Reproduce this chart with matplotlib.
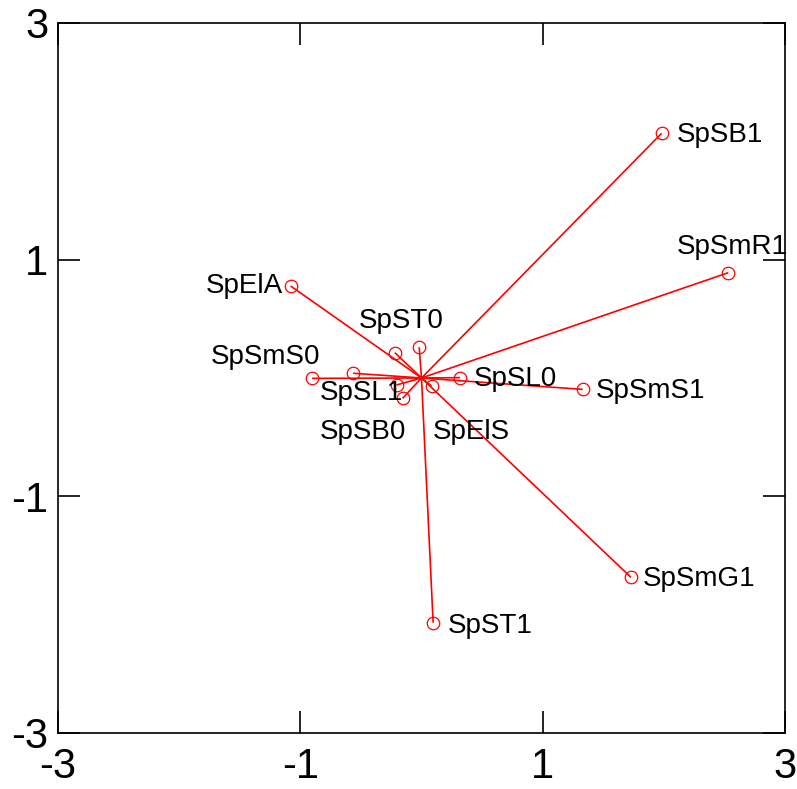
import matplotlib
matplotlib.use("Agg")
import matplotlib.pyplot as plt

plt.rcParams['font.family'] = ['Liberation Sans', 'DejaVu Sans']
plt.rcParams['axes.unicode_minus'] = False

# Species scores (biplot arrows from the origin)
species = ["SpSB1", "SpSmR1", "SpElA", "SpST0", "SpSmS0", "SpSL1",
           "SpSB0", "SpElS", "SpSL0", "SpSmS1", "SpSmG1", "SpST1",
           "", ""]
x_scores = [1.982, 2.532, -1.081, -0.019, -0.903, -0.564,
            -0.156, 0.083, 0.317, 1.330, 1.729, 0.096,
            -0.220, -0.206]
y_scores = [2.068, 0.890, 0.778, 0.260, -0.003, 0.040,
            -0.172, -0.068, 0.003, -0.096, -1.685, -2.068,
            0.214, -0.059]

ticks = [-3, -1, 1, 3]
tick_labels = ["-3", "-1", "1", "3"]

# Label placement: (dx px, dy px downward, horizontal alignment)
label_place = {
    "SpSB1": (15, 2, "left"),
    "SpSmR1": (-52, -26, "left"),
    "SpElA": (-8, 0, "right"),
    "SpST0": (-18, -26, "center"),
    "SpSmS0": (8, -21, "right"),
    "SpSL1": (-33, 20, "left"),
    "SpSB0": (-83, 34, "left"),
    "SpElS": (1, 46, "left"),
    "SpSL0": (14, 1, "left"),
    "SpSmS1": (13, 2, "left"),
    "SpSmG1": (12, 2, "left"),
    "SpST1": (15, 3, "left"),
}

fig = plt.figure(figsize=(7.97, 7.89), dpi=100)
ax = fig.add_axes([58 / 797, 1 - 733 / 789, (785 - 58) / 797, (733 - 23) / 789])

red = "#ff0000"
for name, xv, yv in zip(species, x_scores, y_scores):
    ax.plot([0, xv], [0, yv], color=red, lw=1.2, solid_capstyle="butt", zorder=2)
    ax.plot(xv, yv, marker="o", ms=9, mfc="none", mec=red, mew=0.9, zorder=3)
    if name:
        dx, dy, ha = label_place[name]
        ax.annotate(name, (xv, yv), xytext=(dx * 0.72, -dy * 0.72),
                    textcoords="offset points", ha=ha, va="center",
                    fontsize=20, color="black", clip_on=False, zorder=4)

ax.set_xlim(-3, 3)
ax.set_ylim(-3, 3)
ax.set_xticks(ticks)
ax.set_yticks(ticks)
ax.set_xticklabels(tick_labels)
ax.set_yticklabels(tick_labels)
ax.tick_params(axis="both", direction="in", length=15.5, width=1.2,
               top=True, right=True, labelsize=30)
ax.tick_params(axis="x", pad=10)
ax.tick_params(axis="y", pad=7)
for sp in ax.spines.values():
    sp.set_linewidth(1.2)
    sp.set_color("black")

fig.savefig("out.png", dpi=100)
